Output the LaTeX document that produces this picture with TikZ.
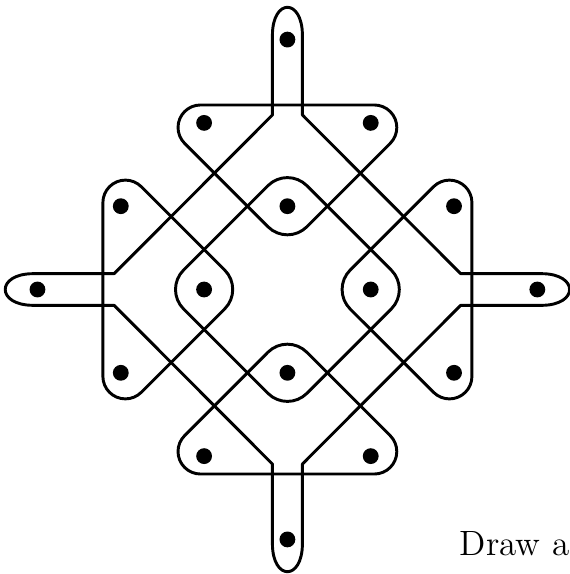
\documentclass[tikz,border=0pt]{standalone}
\usepackage{tikz}
\usetikzlibrary{positioning, calc}

\begin{document}
\begin{tikzpicture}[
    kolam/.style={draw, line width=1pt, line join=round},
    dot/.style={circle, fill=black, inner sep=0pt, minimum size=0.19cm},
    caption/.style={font=\fontsize{12}{14}\selectfont, inner sep=0pt}
]
    \useasboundingbox (-3.45,-3.415) rectangle (3.39,3.475);

    % ================= DOTS =================
    \node[dot] (d_top) at (0, 3) {};
    \node[dot] (d_tl) at (-1, 2) {};
    \node[dot] (d_tr) at (1, 2) {};
    \node[dot] (d_lt) at (-2, 1) {};
    \node[dot] (d_in_t) at (0, 1) {};
    \node[dot] (d_rt) at (2, 1) {};
    \node[dot] (d_left) at (-3, 0) {};
    \node[dot] (d_in_l) at (-1, 0) {};
    \node[dot] (d_in_r) at (1, 0) {};
    \node[dot] (d_right) at (3, 0) {};
    \node[dot] (d_lb) at (-2, -1) {};
    \node[dot] (d_in_b) at (0, -1) {};
    \node[dot] (d_rb) at (2, -1) {};
    \node[dot] (d_bl) at (-1, -2) {};
    \node[dot] (d_br) at (1, -2) {};
    \node[dot] (d_bot) at (0, -3) {};

    % ================= OUTER STAR WITH TONGUES =================
    \draw[kolam] (-0.18, 2.095) -- (-0.18, 3.05)
        .. controls (-0.18, 3.5) and (0.18, 3.5) .. (0.18, 3.05)
        -- (0.18, 2.095) -- (2.08, 0.19) -- (3.05, 0.19)
        .. controls (3.5, 0.19) and (3.5, -0.19) .. (3.05, -0.19)
        -- (2.08, -0.19) -- (0.18, -2.095) -- (0.18, -3.05)
        .. controls (0.18, -3.5) and (-0.18, -3.5) .. (-0.18, -3.05)
        -- (-0.18, -2.095) -- (-2.08, -0.19) -- (-3.05, -0.19)
        .. controls (-3.5, -0.19) and (-3.5, 0.19) .. (-3.05, 0.19)
        -- (-2.08, 0.19) -- cycle;

    % ================= TRIANGLES =================
    % top
    \draw[kolam] (-1.043, 2.215) arc[start angle=90, end angle=225, radius=0.27]
        -- (-0.233, 0.753) arc[start angle=225, end angle=315, radius=0.33]
        -- (1.234, 1.754) arc[start angle=-45, end angle=90, radius=0.27] -- cycle;
    % left
    \draw[kolam] (-2.215, -1.043) arc[start angle=180, end angle=315, radius=0.27]
        -- (-0.753, -0.233) arc[start angle=315, end angle=405, radius=0.33]
        -- (-1.754, 1.234) arc[start angle=45, end angle=180, radius=0.27] -- cycle;
    % bottom
    \draw[kolam] (1.043, -2.215) arc[start angle=270, end angle=405, radius=0.27]
        -- (0.233, -0.753) arc[start angle=45, end angle=135, radius=0.33]
        -- (-1.234, -1.754) arc[start angle=135, end angle=270, radius=0.27] -- cycle;
    % right
    \draw[kolam] (2.215, 1.043) arc[start angle=0, end angle=135, radius=0.27]
        -- (0.753, 0.233) arc[start angle=135, end angle=225, radius=0.33]
        -- (1.754, -1.234) arc[start angle=225, end angle=360, radius=0.27] -- cycle;

    % ================= INNER DIAMOND =================
    \draw[kolam, rounded corners=0.33cm] (0.74, 0.74) -- (1.48, 0) -- (0, -1.48)
        -- (-1.48, 0) -- (0, 1.48) -- cycle;

    % ================= TEXT =================
    \node[caption, anchor=base east] (cap) at (3.39, -3.19) {Draw a};

\end{tikzpicture}
\end{document}
